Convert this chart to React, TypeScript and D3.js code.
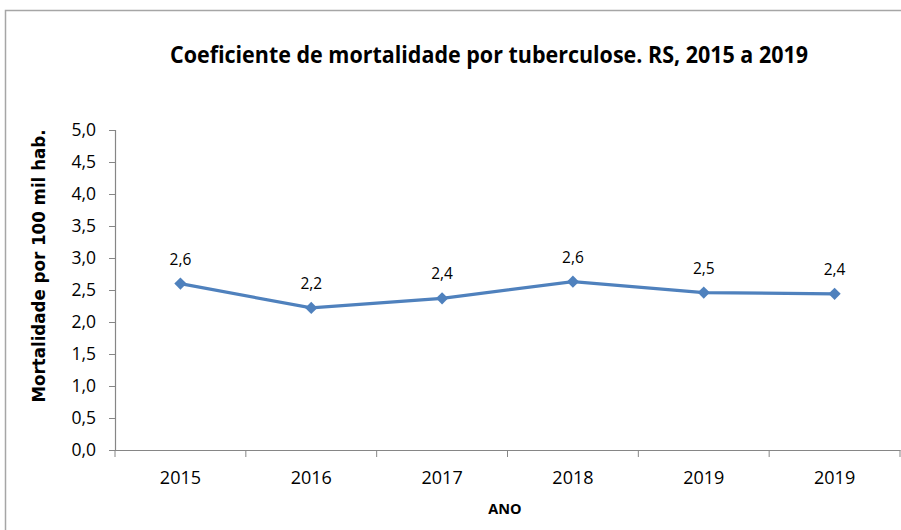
import * as d3 from "d3";
import { useEffect, useRef } from "react";

const years = ["2015", "2016", "2017", "2018", "2019", "2019 "];
const rates = [2.6, 2.22, 2.37, 2.63, 2.46, 2.44];
const yTicks = [0, 0.5, 1, 1.5, 2, 2.5, 3, 3.5, 4, 4.5, 5];

const W = 901;
const H = 530;

export default function App() {
  const svgRef = useRef<SVGSVGElement | null>(null);

  useEffect(() => {
    if (!svgRef.current) return;
    const svg = d3.select(svgRef.current);
    svg.selectAll("*").remove();

    const margin = { top: 130, right: 1, bottom: 80, left: 115 };
    const width = W - margin.left - margin.right;
    const height = H - margin.top - margin.bottom;
    const font = "'Open Sans', sans-serif";
    const comma = (v: number) => d3.format(".1f")(v).replace(".", ",");

    svg.append("rect").attr("width", W).attr("height", H).attr("fill", "#fff");
    // outer chart border (cropped at right/bottom)
    svg
      .append("rect")
      .attr("x", 5.5)
      .attr("y", 10.5)
      .attr("width", W + 10)
      .attr("height", H + 10)
      .attr("fill", "none")
      .attr("stroke", "#a6a6a6")
      .attr("stroke-width", 1.5);

    svg
      .append("text")
      .attr("x", 489)
      .attr("y", 63)
      .attr("text-anchor", "middle")
      .attr("font-family", font)
      .attr("font-weight", "bold")
      .attr("font-size", 24)
      .attr("textLength", 638)
      .attr("lengthAdjust", "spacingAndGlyphs")
      .attr("fill", "#000")
      .text("Coeficiente de mortalidade por tuberculose. RS, 2015 a 2019");

    const g = svg
      .append("g")
      .attr("transform", `translate(${margin.left},${margin.top})`);

    const x = d3.scaleBand().domain(years).range([0, width]);
    const y = d3.scaleLinear().domain([0, 5]).range([height, 0]);

    const yAxis = g
      .append("g")
      .call(
        d3
          .axisLeft(y)
          .tickValues(yTicks)
          .tickSize(6)
          .tickPadding(13)
          .tickFormat((d) => comma(d as number)),
      );
    yAxis.select(".domain").attr("stroke", "#868686").attr("stroke-width", 1.2);
    yAxis.selectAll(".tick line").attr("stroke", "#868686");
    yAxis
      .selectAll(".tick text")
      .attr("font-family", font)
      .attr("font-size", 17.5)
      .attr("fill", "#000");

    const xAxis = g
      .append("g")
      .attr("transform", `translate(0,${height})`)
      .call(
        d3
          .axisBottom(x)
          .tickSize(0)
          .tickPadding(21)
          .tickFormat((d) => (d as string).trim()),
      );
    xAxis.select(".domain").attr("stroke", "#868686").attr("stroke-width", 1.2);
    xAxis
      .selectAll(".tick text")
      .attr("font-family", font)
      .attr("font-size", 18)
      .attr("fill", "#000");
    // category boundary ticks
    g.append("g")
      .selectAll("line")
      .data(years.concat(["end"]))
      .enter()
      .append("line")
      .attr("x1", (d, i) => (i < years.length ? x(d)! : width))
      .attr("x2", (d, i) => (i < years.length ? x(d)! : width))
      .attr("y1", height)
      .attr("y2", height + 7)
      .attr("stroke", "#868686");

    const line = d3
      .line<number>()
      .x((_, i) => x(years[i])! + x.bandwidth() / 2)
      .y((d) => y(d));

    g.append("path")
      .datum(rates)
      .attr("d", line)
      .attr("fill", "none")
      .attr("stroke", "#4f81bd")
      .attr("stroke-width", 3.2);

    g.selectAll(".pt")
      .data(rates)
      .enter()
      .append("path")
      .attr("class", "pt")
      .attr("d", d3.symbol(d3.symbolDiamond2, 95)())
      .attr(
        "transform",
        (d, i) => `translate(${x(years[i])! + x.bandwidth() / 2},${y(d)})`,
      )
      .attr("fill", "#4f81bd");

    g.selectAll(".lbl")
      .data(rates)
      .enter()
      .append("text")
      .attr("class", "lbl")
      .attr("x", (_, i) => x(years[i])! + x.bandwidth() / 2)
      .attr("y", (d) => y(d) - 19)
      .attr("text-anchor", "middle")
      .attr("font-family", font)
      .attr("font-size", 15.5)
      .attr("fill", "#000")
      .text((d) => comma(d));

    svg
      .append("text")
      .attr("transform", `translate(45,266) rotate(-90)`)
      .attr("text-anchor", "middle")
      .attr("font-family", "'DejaVu Sans', sans-serif")
      .attr("font-weight", "bold")
      .attr("font-size", 17)
      .attr("textLength", 273)
      .attr("lengthAdjust", "spacingAndGlyphs")
      .attr("fill", "#000")
      .text("Mortalidade por 100 mil hab.");

    svg
      .append("text")
      .attr("x", 505)
      .attr("y", 514)
      .attr("text-anchor", "middle")
      .attr("font-family", font)
      .attr("font-weight", "bold")
      .attr("font-size", 14.5)
      .attr("fill", "#000")
      .text("ANO");
  }, []);

  return (
    <div style={{ position: "absolute", left: 0, top: 0 }}>
      <svg ref={svgRef} width={W} height={H} style={{ display: "block" }} />
    </div>
  );
}
